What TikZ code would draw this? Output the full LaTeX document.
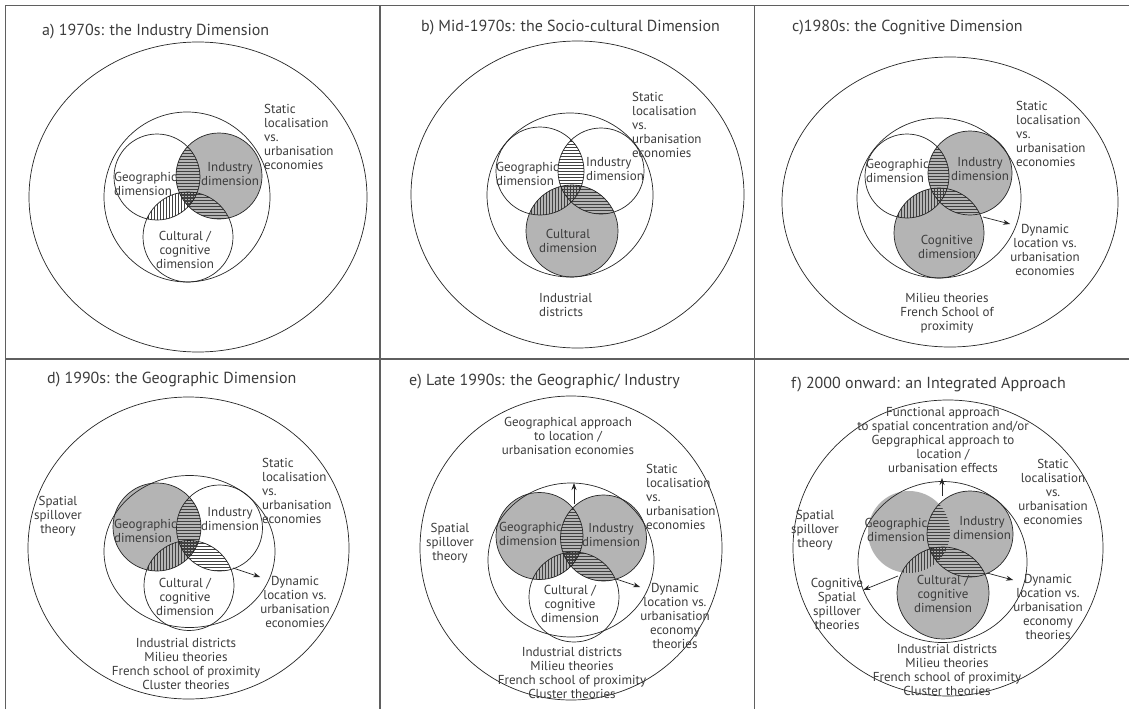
\documentclass[tikz,border=0pt]{standalone}
\usepackage{fontspec}
\setmainfont{PT Sans}
\usetikzlibrary{calc,arrows.meta}
\definecolor{fillg}{RGB}{180,180,180}
\definecolor{ink}{RGB}{60,60,60}
\definecolor{rulec}{RGB}{95,95,95}
\tikzset{
  ring/.style={draw=black!85, line width=0.7pt},
  graydisc/.style={fill=fillg},
  hatch/.style={draw=black!75, line width=0.55pt},
  lbl/.style={text=ink, font=\fontsize{13}{14}\selectfont, inner sep=0pt, align=center},
  lbll/.style={lbl, align=left, anchor=west},
  ttl/.style={text=ink, font=\fontsize{16}{18}\selectfont, inner sep=0pt, anchor=west},
  arr/.style={draw=black!85, line width=0.7pt, -{Stealth[length=7pt,width=5pt]}},
  tablerule/.style={draw=rulec, line width=1.4pt}
}
\newcommand\Hh[4]{\begin{scope}\clip (#1) circle[radius=#2];\clip (#3) circle[radius=#4];
  \foreach \k in {-63,-60,...,63}{\draw[hatch] ($(#1)+(-70,\k)$) -- ++(140,0);}\end{scope}}
\newcommand\Vv[4]{\begin{scope}\clip (#1) circle[radius=#2];\clip (#3) circle[radius=#4];
  \foreach \k in {-63,-60,...,63}{\draw[hatch] ($(#1)+(\k,-70)$) -- ++(0,140);}\end{scope}}
\newcommand\Gg[6]{\begin{scope}\clip (#1) circle[radius=#2];\clip (#3) circle[radius=#4];\clip (#5) circle[radius=#6];
  \foreach \k in {-63,-60,...,63}{\draw[hatch] ($(#1)+(-70,\k)$) -- ++(140,0);\draw[hatch] ($(#1)+(\k,-70)$) -- ++(0,140);}\end{scope}}
\newcommand\Hatches[6]{\Hh{#1}{#2}{#3}{#4}\Vv{#1}{#2}{#5}{#6}\Hh{#3}{#4}{#5}{#6}\Gg{#1}{#2}{#3}{#4}{#5}{#6}}

\begin{document}
\begin{tikzpicture}[x=1pt,y=-1pt]
\useasboundingbox (0,0) rectangle (1129,709);
\fill[white] (0,0) rectangle (1129,709);

% table rules
\coordinate (tl) at (5.5,5.5);
\coordinate (tr) at (1129,5.5);
\coordinate (bl) at (5.5,709);
\coordinate (ml) at (5.5,359);
\coordinate (mr) at (1129,359);
\coordinate (v1t) at (380,5.5);
\coordinate (v1b) at (380,709);
\coordinate (v2t) at (754.5,5.5);
\coordinate (v2b) at (754.5,709);
\draw[tablerule] (bl) -- (tl) -- (tr);
\draw[tablerule] (ml) -- (mr);
\draw[tablerule] (v1t) -- (v1b);
\draw[tablerule] (v2t) -- (v2b);

%================ panel a
\coordinate (aO) at (198,197);
\coordinate (aM) at (187,197);
\coordinate (aG) at (157,177);
\coordinate (aI) at (219,176);
\coordinate (aC) at (188,237);
\fill[graydisc] (aI) circle[radius=43];
\Hatches{aG}{43}{aI}{43}{aC}{45}
\draw[ring] (aO) ellipse[x radius=169, y radius=155];
\draw[ring] (aM) ellipse[x radius=83, y radius=85];
\draw[ring] (aG) circle[radius=43];
\draw[ring] (aI) circle[radius=43];
\draw[ring] (aC) circle[radius=45];
\node[ttl] (aT) at (42,32) {a) 1970s: the Industry Dimension};
\node[lbll] (aS) at (264,137) {Static\\localisation\\vs.\\urbanisation\\economies};
\node[lbll] (aGl) at (114,184) {Geographic\\dimension};
\node[lbl] (aIl) at (230,174) {Industry\\dimension};
\node[lbl] (aCl) at (185,250) {Cultural /\\cognitive\\dimension};

%================ panel b
\coordinate (bO) at (577.5,194.5);
\coordinate (bM) at (570,195);
\coordinate (bG) at (540,171);
\coordinate (bI) at (601,171);
\coordinate (bC) at (572,231);
\fill[graydisc] (bC) circle[radius=46];
\Hatches{bG}{44}{bI}{43}{bC}{46}
\draw[ring] (bO) ellipse[x radius=166.5, y radius=153.5];
\draw[ring] (bM) ellipse[x radius=83, y radius=82];
\draw[ring] (bG) circle[radius=44];
\draw[ring] (bI) circle[radius=43];
\draw[ring] (bC) circle[radius=46];
\node[ttl] (bT) at (421,28) {b) Mid-1970s: the Socio-cultural Dimension};
\node[lbll] (bS) at (632,125) {Static\\localisation\\vs.\\urbanisation\\economies};
\node[lbll] (bGl) at (496,174) {Geographic\\dimension};
\node[lbll] (bIl) at (586,169) {Industry\\dimension};
\node[lbl] (bCl) at (568,241) {Cultural\\dimension};
\node[lbll] (bD) at (539,305) {Industrial\\districts};

%================ panel c
\coordinate (cO) at (950,202);
\coordinate (cM) at (939,198);
\coordinate (cG) at (907,176);
\coordinate (cI) at (970,173);
\coordinate (cC) at (939,233);
\fill[graydisc] (cI) circle[radius=42];
\fill[graydisc] (cC) circle[radius=45];
\Hatches{cG}{42}{cI}{42}{cC}{45}
\draw[ring] (cO) ellipse[x radius=168, y radius=145];
\draw[ring] (cM) ellipse[x radius=82, y radius=80];
\draw[ring] (cG) circle[radius=42];
\draw[ring] (cI) circle[radius=42];
\draw[ring] (cC) circle[radius=45];
\node[ttl] (cT) at (792,28) {c)1980s: the Cognitive Dimension};
\node[lbll] (cS) at (1016,134) {Static\\localisation\\vs.\\urbanisation\\economies};
\node[lbl] (cDy) at (1045,250) {Dynamic\\location vs.\\urbanisation\\economies};
\node[lbll] (cGl) at (866,171) {Geographic\\dimension};
\node[lbl] (cIl) at (980,169.5) {Industry\\dimension};
\node[lbl] (cCl) at (947,247) {Cognitive\\dimension};
\node[lbl] (cM1) at (947,313) {Milieu theories\\French School of\\proximity};
\coordinate (cA1) at (983,217);
\draw[arr] (cA1) -- (cDy.west |- 0,224);

%================ panel d
\coordinate (dO) at (188.5,548);
\coordinate (dM) at (189.5,551.5);
\coordinate (dG) at (157,527);
\coordinate (dI) at (219.5,528);
\coordinate (dC) at (189,585.5);
\fill[graydisc] (dG) circle[radius=44];
\Hatches{dG}{44}{dI}{43}{dC}{45}
\draw[ring] (dO) ellipse[x radius=160.5, y radius=151];
\draw[ring] (dM) ellipse[x radius=85.5, y radius=76];
\draw[ring] (dG) circle[radius=44];
\draw[ring] (dI) circle[radius=43];
\draw[ring] (dC) circle[radius=45];
\node[ttl] (dT) at (47,380) {d) 1990s: the Geographic Dimension};
\node[lbl] (dSp) at (58,516) {Spatial\\spillover\\theory};
\node[lbll] (dS) at (262,491) {Static\\localisation\\vs.\\urbanisation\\economies};
\node[lbll] (dGl) at (114,531) {Geographic\\dimension};
\node[lbl] (dIl) at (230,519) {Industry\\dimension};
\node[lbl] (dCl) at (185,597) {Cultural /\\cognitive\\dimension};
\node[lbl] (dDy) at (295,602) {Dynamic\\location vs.\\urbanisation\\economies};
\node[lbl] (dB) at (186,664) {Industrial districts\\Milieu theories\\French school of proximity\\Cluster theories};
\coordinate (dA1) at (233,568);
\draw[arr] (dA1) -- (dDy.west |- 0,577);

%================ panel e
\coordinate (eO) at (571,548);
\coordinate (eM) at (571,560);
\coordinate (eG) at (539.5,536);
\coordinate (eI) at (603.5,538);
\coordinate (eC) at (574,597);
\fill[graydisc] (eG) circle[radius=43.5];
\fill[graydisc] (eI) circle[radius=43];
\Hatches{eG}{43.5}{eI}{43}{eC}{45}
\draw[ring] (eO) ellipse[x radius=151, y radius=152];
\draw[ring] (eM) ellipse[x radius=83, y radius=77];
\draw[ring] (eG) circle[radius=43.5];
\draw[ring] (eI) circle[radius=43];
\draw[ring] (eC) circle[radius=45];
\node[ttl] (eT) at (409,382) {e) Late 1990s: the Geographic/ Industry};
\node[lbl] (eGa) at (568,436) {Geographical approach\\to location /\\urbanisation economies};
\node[lbll] (eS) at (646,497) {Static\\localisation\\vs.\\urbanisation\\economies};
\node[lbl] (eSp) at (450,543) {Spatial\\spillover\\theory};
\node[lbll] (eGl) at (499,534) {Geographic\\dimension};
\node[lbl] (eIl) at (611,535) {Industry\\dimension};
\node[lbl] (eCl) at (570,604) {Cultural /\\cognitive\\dimension};
\node[lbl] (eDy) at (675,616) {Dynamic\\location vs.\\urbanisation\\economy\\theories};
\node[lbl] (eB) at (572,673) {Industrial districts\\Milieu theories\\French school of proximity\\Cluster theories};
\coordinate (eA0) at (574,504);
\coordinate (eA1) at (574,483);
\draw[arr] (eA0) -- (eA1);
\coordinate (eA2) at (616,579);
\draw[arr] (eA2) -- (eDy.west |- 0,587);

%================ panel f
\coordinate (fO) at (948,548);
\coordinate (fM) at (942.5,562);
\coordinate (fG) at (909,532);
\coordinate (fI) at (970,534);
\coordinate (fC) at (943,593);
\fill[graydisc] (fG) circle[radius=41];
\fill[graydisc] (fI) circle[radius=43];
\fill[graydisc] (fC) circle[radius=46];
\Hatches{fG}{41}{fI}{43}{fC}{46}
\draw[ring] (fO) ellipse[x radius=155, y radius=148];
\draw[ring] (fM) ellipse[x radius=84.5, y radius=80.5];
\draw[ring] (fI) circle[radius=43];
\draw[ring] (fC) circle[radius=46];
\node[ttl] (fT) at (791,385) {f) 2000 onward: an Integrated Approach};
\node[lbl] (fFu) at (943,440) {Functional approach\\to spatial concentration and/or\\Gepgraphical approach to\\location /\\urbanisation effects};
\node[lbl] (fS) at (1053,492) {Static\\localisation\\vs.\\urbanisation\\economies};
\node[lbl] (fSp) at (815,530) {Spatial\\spillover\\theory};
\node[lbl] (fGl) at (896,530) {Geographic\\dimension};
\node[lbl] (fIl) at (982,528) {Industry\\dimension};
\node[lbl] (fCl) at (943,594) {Cultural /\\cognitive\\dimension};
\node[lbl] (fCo) at (837,604) {Cognitive\\Spatial\\spillover\\theories};
\node[lbl] (fDy) at (1048,607) {Dynamic\\location vs.\\urbanisation\\economy\\theories};
\node[lbl] (fB) at (947,670) {Industrial districts\\Milieu theories\\French school of proximity\\Cluster theories};
\coordinate (fA0) at (942,496);
\coordinate (fA1) at (942,478);
\draw[arr] (fA0) -- (fA1);
\coordinate (fA2) at (987,573);
\draw[arr] (fA2) -- (fDy.west |- 0,580);
\coordinate (fA3) at (898,576);
\draw[arr] (fA3) -- (fCo.east |- 0,590);
\end{tikzpicture}
\end{document}
